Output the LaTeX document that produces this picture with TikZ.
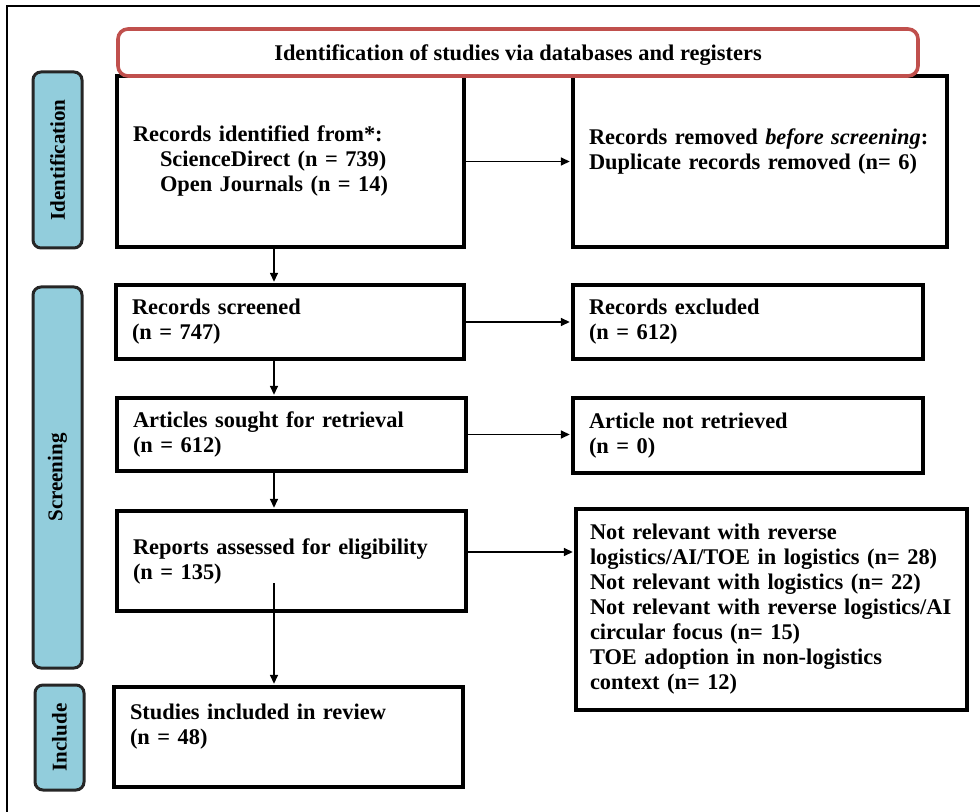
\documentclass[tikz,border=0pt]{standalone}
\usepackage{fontspec}
\setmainfont{Liberation Serif}
\usetikzlibrary{arrows.meta}
\definecolor{headred}{HTML}{C0504D}
\definecolor{phaseblue}{HTML}{92CDDC}

\begin{document}
\begin{tikzpicture}[x=1pt, y=1pt, >={Triangle[length=4.5pt,width=4pt]},
  every node/.style={font=\fontsize{11.2}{12.5}\selectfont\bfseries},
  box/.style={draw, line width=1.6pt, inner xsep=8pt, align=left},
  phase/.style={draw=black!85, fill=phaseblue, line width=1.5pt, rounded corners=4pt,
    rotate=90, minimum height=24.5pt, font=\fontsize{10.5}{12}\selectfont\bfseries},
  head/.style={draw=headred, fill=white, line width=1.8pt, rounded corners=5pt,
    minimum width=400pt, minimum height=23.5pt, text height=11pt, text depth=2.5pt},
  link/.style={->, line width=0.75pt, shorten >=0.8pt}]
  \useasboundingbox (0,0) rectangle (490,-406);
  % page frame
  \draw[line width=0.6pt] (3.5,-406) -- (3.5,-3) -- (490,-3);

  % phases
  \node[phase, minimum width=88pt] (ph1) at (28.75,-80) {Identification};
  \node[phase, minimum width=190.5pt] (ph2) at (28.75,-238.75) {Screening};
  \node[phase, minimum width=52.5pt] (ph3) at (29.75,-368.75) {Include};

  % left column
  \node[box, text width=157.5pt, minimum height=85.5pt] (b1) at (145.25,-80.75)
    {Records identified from*:\\\hspace*{13.5pt}ScienceDirect (n = 739)\\\hspace*{13.5pt}Open Journals (n = 14)};
  \node[box, text width=158pt, minimum height=37pt] (b3) at (145,-161) {Records screened\\(n = 747)};
  \node[box, text width=158.5pt, minimum height=36.5pt] (b5) at (145.75,-217.25) {Articles sought for retrieval\\(n = 612)};
  \node[box, text width=158.5pt, minimum height=50pt] (b7) at (145.75,-280.5) {Reports assessed for eligibility\\(n = 135)};
  \node[box, text width=158.5pt, minimum height=50pt] (b9) at (144.25,-368.5) {Studies included in review\\(n = 48)\\\mbox{}};

  % right column
  \node[box, text width=171pt, minimum height=85.5pt] (b2) at (380,-80.75)
    {Records removed \textit{before screening}:\\Duplicate records removed (n= 6)\\\mbox{}};
  \node[box, text width=159pt, minimum height=37pt] (b4) at (374,-161) {Records excluded\\(n = 612)};
  \node[box, text width=159pt, minimum height=37.5pt] (b6) at (374,-217.75) {Article not retrieved\\(n = 0)};
  \node[box, inner xsep=7pt, text width=181.5pt, minimum height=100.5pt] (b8) at (385.75,-304.75)
    {Not relevant with reverse\\logistics/AI/TOE in logistics (n= 28)\\Not relevant with logistics (n= 22)\\Not relevant with reverse logistics/AI\\circular focus (n= 15)\\TOE adoption in non-logistics\\context (n= 12)};

  % header
  \node[head] (head) at (259,-26.25) {Identification of studies via databases and registers};

  % connectors
  \coordinate (spine) at (137,0);
  \coordinate (b7out) at (137,-291.5);
  \draw[link] (b1.south -| spine) -- (b3.north -| spine);
  \draw[link] (b3.south -| spine) -- (b5.north -| spine);
  \draw[link] (b5.south -| spine) -- (b7.north -| spine);
  \draw[link] (b7out) -- (b9.north -| spine);
  \draw[link] (b1.east) -- (b1.east -| b2.west);
  \draw[link] (b3.east) -- (b3.east -| b4.west);
  \draw[link] (b5.east) -- (b5.east -| b6.west);
  \draw[link] ([yshift=4.5pt]b7.east) coordinate (b7side) -- (b7side -| b8.west);
\end{tikzpicture}
\end{document}
